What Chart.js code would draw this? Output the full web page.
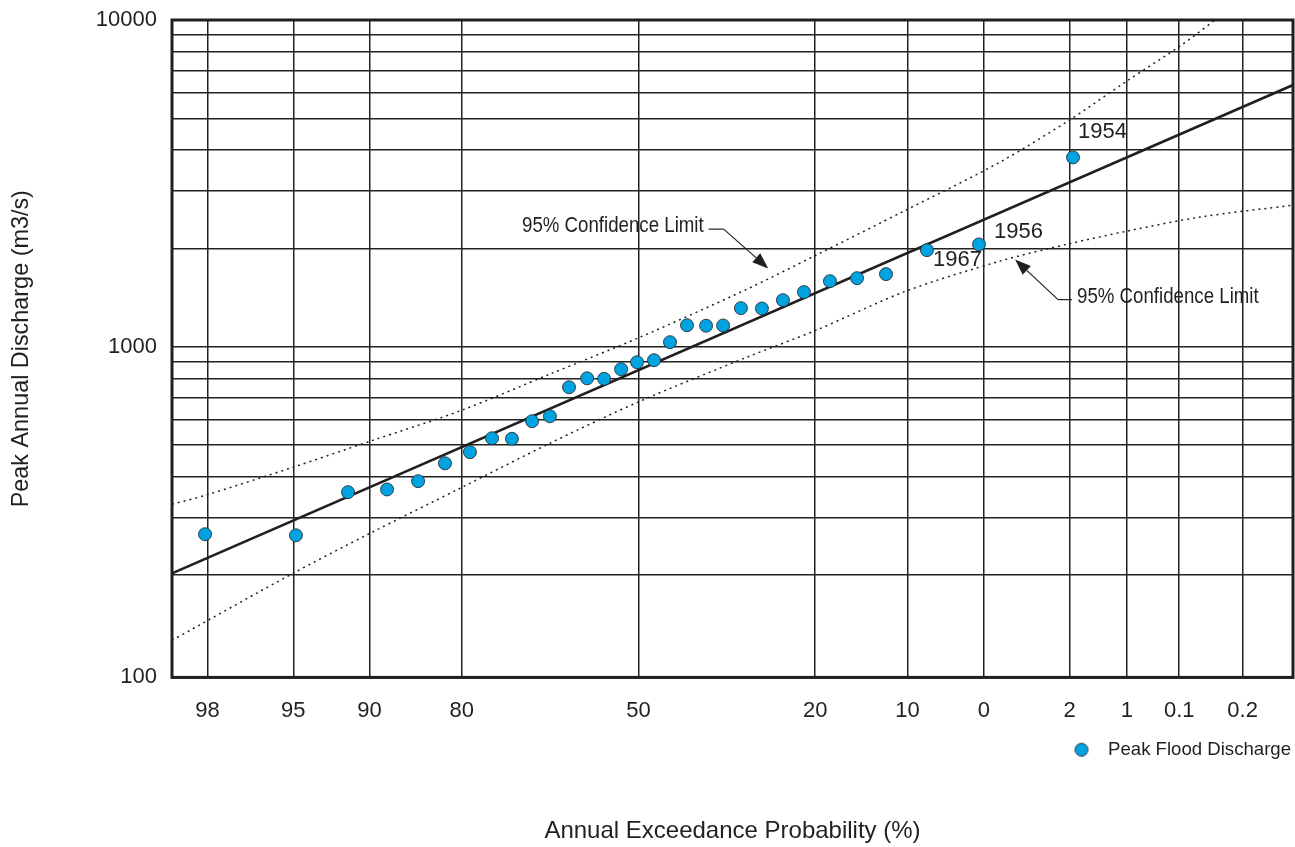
<!DOCTYPE html>
<html>
<head>
<meta charset="utf-8">
<script src="https://cdn.jsdelivr.net/npm/chart.js@4.4.0/dist/chart.umd.min.js"></script>
<style>
  html, body { margin: 0; padding: 0; background: #ffffff; }
  #wrap { width: 1295px; height: 847px; }
</style>
</head>
<body>
<div id="wrap"><canvas id="c" width="1295" height="847"></canvas></div>
<script>
// ---------------- DATA ----------------
// x axis: normal-probability axis; values are standard normal variates (z)
const xTickProbs  = [98, 95, 90, 80, 50, 20, 10, 5, 2, 1, 0.5, 0.2];      // exceedance % at gridlines
const xTickLabels = ['98', '95', '90', '80', '50', '20', '10', '0', '2', '1', '0.1', '0.2'];
const X_MIN = -2.2225, X_MAX = 3.118;

// y axis: logarithmic discharge
const Y_MIN = 97.35, Y_MAX = 10000;
const yGridValues = [200, 300, 400, 500, 600, 700, 800, 900, 1000,
                     2000, 3000, 4000, 5000, 6000, 7000, 8000, 9000, 10000];
const yTickLabels = ['100', '1000', '10000'];

// Peak flood discharges (plotting position z, discharge m3/s)
const pointZ = [-2.065, -1.632, -1.384, -1.198, -1.050, -0.922, -0.803, -0.698, -0.603, -0.507,
                -0.422, -0.331, -0.245, -0.164, -0.083, -0.007, 0.074, 0.150, 0.231, 0.322,
                0.403, 0.488, 0.588, 0.688, 0.788, 0.912, 1.041, 1.179, 1.374, 1.622, 2.070];
const peakQ  = [267, 265, 359, 366, 388, 440, 476, 525, 523, 592,
                613, 752, 801, 798, 854, 897, 910, 1033, 1164, 1160,
                1162, 1313, 1310, 1389, 1470, 1588, 1622, 1669, 1976, 2057, 3798];
const labelledIndex = [28, 29, 30];
const labelledYears = ['1967', '1956', '1954'];

// Fitted distribution line
const fitZ = [-2.2225, 3.118];
const fitQ = [202.7, 6324];

// 95% confidence limits
const upperZ = [-2.2225, -2.065, -1.646, -1.279, -0.841, -0.422, 0.007, 0.517, 0.846, 1.274, 1.722, 2.046, 2.327, 2.594, 2.746];
const upperQ = [330, 351, 428, 514, 640, 825, 1070, 1501, 1908, 2619, 3674, 4908, 6506, 8443, 10000];
const lowerZ = [-2.2225, -1.646, -1.279, -0.841, -0.422, 0.007, 0.517, 0.846, 1.274, 1.722, 2.046, 2.327, 2.675, 3.118];
const lowerQ = [126.4, 202.7, 268.7, 371.6, 506.8, 681.4, 929.5, 1124, 1480, 1829, 2062, 2259, 2494, 2714];

// Confidence-limit callouts: text anchor and arrow tip (data coords)
const calloutText = ['95% Confidence Limit', '95% Confidence Limit'];
const calloutAnchor = [{x: -0.555, y: 2340}, {x: 2.089, y: 1424}];
const calloutTip    = [{x: 0.618, y: 1737}, {x: 1.794, y: 1850}];

// ---------------- helpers ----------------
function normInv(p) {
  const a = [-3.969683028665376e+01, 2.209460984245205e+02, -2.759285104469687e+02, 1.383577518672690e+02, -3.066479806614716e+01, 2.506628277459239e+00];
  const b = [-5.447609879822406e+01, 1.615858368580409e+02, -1.556989798598866e+02, 6.680131188771972e+01, -1.328068155288572e+01];
  const c = [-7.784894002430293e-03, -3.223964580411365e-01, -2.400758277161838e+00, -2.549671010115381e+00, 4.374664141464968e+00, 2.938163982698783e+00];
  const d = [7.784695709041462e-03, 3.224671290700398e-01, 2.445134137142996e+00, 3.754408661907416e+00];
  const pl = 0.02425, ph = 1 - pl;
  let q, r;
  if (p < pl) {
    q = Math.sqrt(-2 * Math.log(p));
    return (((((c[0]*q+c[1])*q+c[2])*q+c[3])*q+c[4])*q+c[5]) / ((((d[0]*q+d[1])*q+d[2])*q+d[3])*q+1);
  }
  if (p <= ph) {
    q = p - 0.5; r = q * q;
    return (((((a[0]*r+a[1])*r+a[2])*r+a[3])*r+a[4])*r+a[5])*q / (((((b[0]*r+b[1])*r+b[2])*r+b[3])*r+b[4])*r+1);
  }
  q = Math.sqrt(-2 * Math.log(1 - p));
  return -(((((c[0]*q+c[1])*q+c[2])*q+c[3])*q+c[4])*q+c[5]) / ((((d[0]*q+d[1])*q+d[2])*q+d[3])*q+1);
}
const xTickZ = xTickProbs.map(p => normInv(1 - p / 100));
const zip = (xs, ys) => xs.map((x, i) => ({x: x, y: ys[i]}));

const INK = '#231f20';
const CYAN = '#00a3e0';
const REG = '"Liberation Sans", Arial, Helvetica, sans-serif';

// legend marker: circle drawn toward the left of its image so the gap to the text matches
const legendMarker = (() => {
  const cv = document.createElement('canvas');
  cv.width = 34; cv.height = 16;
  const g = cv.getContext('2d');
  g.beginPath();
  g.arc(9, 8, 6.5, 0, Math.PI * 2);
  g.fillStyle = CYAN;
  g.fill();
  g.lineWidth = 0.8;
  g.strokeStyle = INK;
  g.stroke();
  return cv;
})();

// ---------------- plugins ----------------
const framePlugin = {
  id: 'frame',
  beforeDatasetsDraw(chart) {
    const {ctx, chartArea: a} = chart;
    ctx.save();
    ctx.strokeStyle = INK;
    ctx.lineWidth = 3;
    ctx.strokeRect(a.left, a.top, a.right - a.left, a.bottom - a.top);
    ctx.restore();
  }
};

function arrowTo(ctx, x0, y0, x1, y1) {
  const ang = Math.atan2(y1 - y0, x1 - x0);
  const L = 16, W = 6;
  const bx = x1 - L * Math.cos(ang), by = y1 - L * Math.sin(ang);
  ctx.beginPath();
  ctx.moveTo(x0, y0);
  ctx.lineTo(bx, by);
  ctx.stroke();
  ctx.beginPath();
  ctx.moveTo(x1, y1);
  ctx.lineTo(bx + W * Math.sin(ang), by - W * Math.cos(ang));
  ctx.lineTo(bx - W * Math.sin(ang), by + W * Math.cos(ang));
  ctx.closePath();
  ctx.fill();
}

const annotationPlugin = {
  id: 'annot',
  afterDatasetsDraw(chart) {
    const {ctx} = chart;
    const xs = chart.scales.x, ys = chart.scales.y;
    ctx.save();
    ctx.fillStyle = INK;
    ctx.strokeStyle = INK;
    ctx.textBaseline = 'middle';
    ctx.textAlign = 'left';

    // year labels next to points
    const offs = [{dx: 6, dy: 10}, {dx: 15, dy: -12}, {dx: 5, dy: -25}];
    ctx.font = '22px ' + REG;
    labelledIndex.forEach((idx, k) => {
      const px = xs.getPixelForValue(pointZ[idx]);
      const py = ys.getPixelForValue(peakQ[idx]);
      ctx.fillText(labelledYears[k], px + offs[k].dx, py + offs[k].dy);
    });

    // callouts (condensed lettering, as in the reference)
    const SQ = 0.83;
    ctx.font = '22.5px ' + REG;
    ctx.lineWidth = 1.2;
    calloutText.forEach((t, k) => {
      const tx = xs.getPixelForValue(calloutAnchor[k].x);
      const ty = ys.getPixelForValue(calloutAnchor[k].y);
      const px = xs.getPixelForValue(calloutTip[k].x);
      const py = ys.getPixelForValue(calloutTip[k].y);
      ctx.save();
      ctx.translate(tx, ty);
      ctx.scale(SQ, 1);
      ctx.fillText(t, 0, 0);
      ctx.restore();
      const w = ctx.measureText(t).width * SQ;
      let sx, ex;
      if (k === 0) { sx = tx + w + 5; ex = sx + 15; }
      else { sx = tx - 5; ex = sx - 14; }
      ctx.beginPath();
      ctx.moveTo(sx, ty + 3);
      ctx.lineTo(ex, ty + 3);
      ctx.stroke();
      arrowTo(ctx, ex, ty + 3, px, py);
    });
    ctx.restore();
  }
};

// ---------------- chart ----------------
new Chart(document.getElementById('c'), {
  type: 'scatter',
  data: {
    datasets: [
      {
        label: 'Peak Flood Discharge',
        data: zip(pointZ, peakQ),
        backgroundColor: CYAN,
        borderColor: INK,
        borderWidth: 0.8,
        pointRadius: 6.5,
        pointHoverRadius: 6.5,
        showLine: false
      },
      {
        label: 'Fitted',
        data: zip(fitZ, fitQ),
        showLine: true,
        borderColor: INK,
        borderWidth: 2.6,
        pointRadius: 0,
        tension: 0
      },
      {
        label: 'Upper 95% Confidence Limit',
        data: zip(upperZ, upperQ),
        showLine: true,
        borderColor: INK,
        borderWidth: 1.5,
        borderDash: [2, 4],
        pointRadius: 0,
        tension: 0.3
      },
      {
        label: 'Lower 95% Confidence Limit',
        data: zip(lowerZ, lowerQ),
        showLine: true,
        borderColor: INK,
        borderWidth: 1.5,
        borderDash: [2, 4],
        pointRadius: 0,
        tension: 0.3
      }
    ]
  },
  options: {
    responsive: false,
    animation: false,
    devicePixelRatio: 1,
    events: [],
    layout: { autoPadding: false, padding: { top: 20, right: 2, left: 0, bottom: 0 } },
    scales: {
      x: {
        type: 'linear',
        bounds: 'data',
        min: X_MIN,
        max: X_MAX,
        afterBuildTicks: s => { s.ticks = xTickZ.map(v => ({value: v})); },
        afterFit: s => { s.height = 61; s.paddingLeft = 0; s.paddingRight = 0; },
        ticks: {
          autoSkip: false,
          maxRotation: 0,
          padding: 20,
          color: INK,
          font: { family: REG, size: 22 },
          callback: (v, i) => xTickLabels[i]
        },
        grid: { color: '#222222', lineWidth: 1.5, drawTicks: false },
        border: { display: false }
      },
      y: {
        type: 'logarithmic',
        bounds: 'data',
        min: Y_MIN,
        max: Y_MAX,
        // the reference prints its "100" label at the bottom edge of the axis
        afterBuildTicks: s => { s.ticks = [Y_MIN].concat(yGridValues).map(v => ({value: v})); },
        afterFit: s => { s.width = 172; s.paddingTop = 0; s.paddingBottom = 0; },
        ticks: {
          padding: 15,
          color: INK,
          font: { family: REG, size: 22 },
          callback: v => v === Y_MIN ? yTickLabels[0] : (v === 1000 ? yTickLabels[1] : (v === 10000 ? yTickLabels[2] : ''))
        },
        grid: { color: '#222222', lineWidth: 1.5, drawTicks: false },
        border: { display: false },
        title: {
          display: true,
          text: 'Peak Annual Discharge (m3/s)',
          color: INK,
          font: { family: REG, size: 23.4 },
          padding: { top: 8, bottom: 0 }
        }
      }
    },
    plugins: {
      legend: {
        position: 'bottom',
        align: 'end',
        labels: {
          filter: it => it.datasetIndex === 0,
          usePointStyle: true,
          pointStyle: legendMarker,
          boxHeight: 16,
          boxWidth: 22,
          padding: 2,
          color: INK,
          font: { family: REG, size: 18.6 }
        }
      },
      title: {
        display: true,
        position: 'bottom',
        fullSize: false,
        text: 'Annual Exceedance Probability (%)',
        color: INK,
        font: { family: REG, size: 24, weight: 'normal', lineHeight: 1 },
        padding: { top: 50, bottom: 4 }
      },
      tooltip: { enabled: false }
    }
  },
  plugins: [framePlugin, annotationPlugin]
});
</script>
</body>
</html>
